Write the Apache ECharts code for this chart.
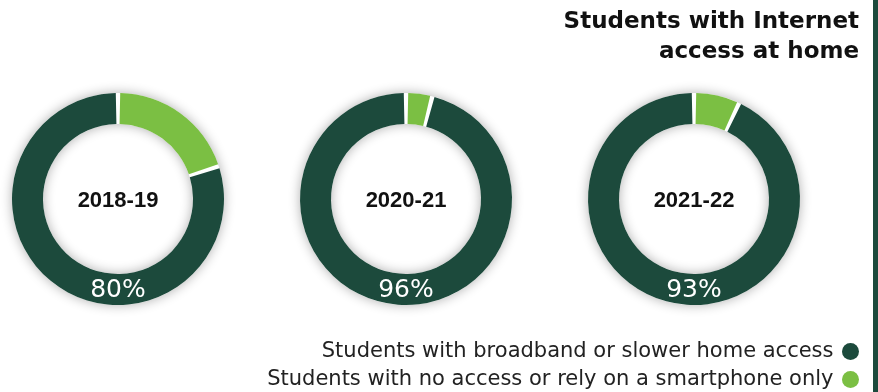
<!DOCTYPE html>
<html>
<head>
<meta charset="utf-8">
<style>
  html, body { margin: 0; padding: 0; background: #ffffff; }
  #chart { width: 878px; height: 392px; }
</style>
<script src="https://cdn.jsdelivr.net/npm/echarts@6/dist/echarts.min.js"></script>
</head>
<body>
<div id="chart"></div>
<script>
// School years shown as rings
const years = ['2018-19', '2020-21', '2021-22'];
// Share of students with broadband or slower home access (%)
const withAccess = [80, 96, 93];
// Share of students with no access or relying on a smartphone only (%)
const noAccess = [20, 4, 7];

const seriesNames = [
  'Students with broadband or slower home access',
  'Students with no access or rely on a smartphone only'
];
const titleLines = ['Students with Internet', 'access at home'];

const DARK = '#1c4a3c';
const LIGHT = '#7bbf43';
const SANS = '"DejaVu Sans", sans-serif';
const YEAR_FONT = '"Liberation Sans", Arial, sans-serif';

// ring layout
const centersX = [118, 406, 694];
const centerY = 199;
const outerR = 106;
const innerR = 75;

const chart = echarts.init(document.getElementById('chart'), null, { renderer: 'canvas' });

const series = [];
years.forEach((y, i) => {
  // white full ring underneath that casts the soft glow
  series.push({
    type: 'pie',
    name: y + ' base',
    center: [centersX[i], centerY],
    radius: [innerR, outerR],
    silent: true,
    z: 1,
    label: { show: false },
    labelLine: { show: false },
    itemStyle: {
      color: '#ffffff',
      shadowBlur: 12,
      shadowColor: 'rgba(0,0,0,0.32)'
    },
    data: [{ name: 'total', value: withAccess[i] + noAccess[i] }]
  });
  // the two shares
  series.push({
    type: 'pie',
    name: y,
    center: [centersX[i], centerY],
    radius: [innerR, outerR],
    startAngle: 90,
    clockwise: true,
    padAngle: 2.4,
    silent: true,
    z: 2,
    label: { show: false },
    labelLine: { show: false },
    data: [
      { name: seriesNames[1], value: noAccess[i], itemStyle: { color: LIGHT } },
      { name: seriesNames[0], value: withAccess[i], itemStyle: { color: DARK } }
    ]
  });
});

const graphics = [
  // dark rule along the right edge
  { type: 'rect', shape: { x: 873, y: 0, width: 5, height: 392 }, style: { fill: DARK } }
];

// heading, right aligned
titleLines.forEach((t, k) => {
  graphics.push({
    type: 'text', x: 859, y: 22 + k * 30, z: 10,
    style: {
      text: t, align: 'right', verticalAlign: 'middle',
      font: 'bold 23px ' + SANS, fill: '#111111'
    }
  });
});

// year in the middle of each ring, share at the foot of each ring
years.forEach((y, i) => {
  graphics.push({
    type: 'text', x: centersX[i], y: centerY + 2, z: 10,
    style: {
      text: y, align: 'center', verticalAlign: 'middle',
      font: 'bold 22px ' + YEAR_FONT, fill: '#111111'
    }
  });
  graphics.push({
    type: 'text', x: centersX[i], y: centerY + 91, z: 10,
    style: {
      text: withAccess[i] + '%', align: 'center', verticalAlign: 'middle',
      font: '25px ' + SANS, fill: '#ffffff'
    }
  });
});

chart.setOption({
  backgroundColor: '#ffffff',
  animation: false,
  legend: {
    orient: 'vertical',
    right: 19,
    top: 341,
    padding: 0,
    align: 'right',
    icon: 'circle',
    itemWidth: 24,
    itemHeight: 17,
    itemGap: 7,
    selectedMode: false,
    data: seriesNames,
    textStyle: { fontFamily: SANS, fontSize: 21, color: '#222222' }
  },
  graphic: graphics,
  series: series
});
</script>
</body>
</html>
